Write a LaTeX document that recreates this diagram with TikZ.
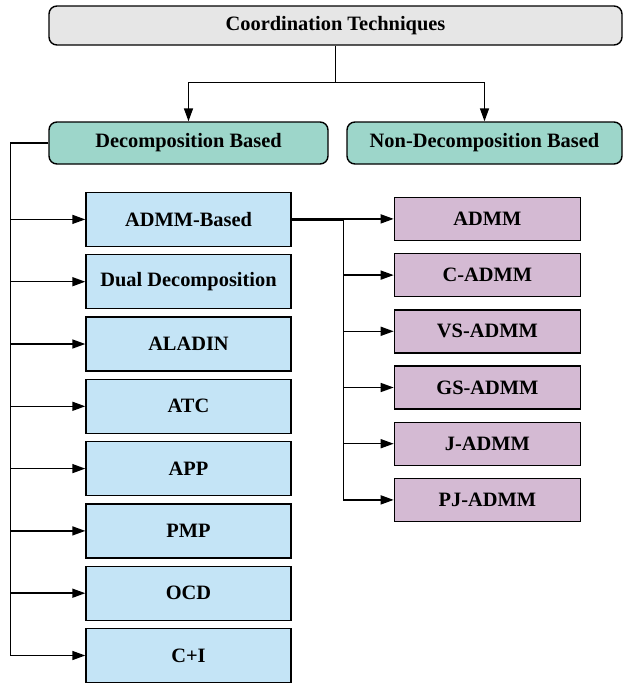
\documentclass[tikz,border=0pt]{standalone}
\usepackage{fontspec}
\setmainfont{Liberation Serif}
\usetikzlibrary{positioning, arrows.meta}
\definecolor{greyhead}{HTML}{E6E6E6}
\definecolor{tealbox}{HTML}{9DD6CA}
\definecolor{bluebox}{HTML}{C4E4F6}
\definecolor{mauvebox}{HTML}{D4BAD3}
\def\lbl{\bfseries\fontsize{20.4}{24}\selectfont}
\tikzstyle{head} = [rectangle, rounded corners=8pt, draw=black, line width=1.4pt, fill=greyhead, minimum width=573pt, minimum height=39pt, text centered, font=\lbl]
\tikzstyle{branch} = [rectangle, rounded corners=8pt, draw=black, line width=1.4pt, fill=tealbox, minimum height=42pt, text centered, font=\lbl]
\tikzstyle{method} = [rectangle, draw=black, line width=1.4pt, fill=bluebox, minimum width=205pt, minimum height=54pt, text centered, font=\lbl]
\tikzstyle{variant} = [rectangle, draw=black, line width=1.4pt, fill=mauvebox, minimum width=186pt, minimum height=43pt, text centered, font=\lbl]
\tikzstyle{aro} = [-{Triangle[length=13pt,width=9pt]}, line width=1.5pt]

\begin{document}
\begin{tikzpicture}[x=1pt, y=-1pt]

  \useasboundingbox (0,0) rectangle (623,686);

  \node (top) [head] at (335.5,25.5) {Coordination Techniques};
  \node (dec) [branch, minimum width=279pt] at (188.5,143) {Decomposition Based};
  \node (nondec) [branch, minimum width=275pt] at (484.5,143) {Non-Decomposition Based};

  \coordinate [below=37pt of top.south] (split);
  \draw [line width=1.8pt] (top.south) -- (split);
  \draw [aro] (split) -| (dec);
  \draw [aro] (split) -| (nondec);

  % decomposition based methods
  \node (admmb) [method, below right=27pt and 37pt of dec.south west] {ADMM-Based};
  \node (dual) [method, below=6.9pt of admmb] {Dual Decomposition};
  \node (aladin) [method, below=6.9pt of dual] {ALADIN};
  \node (atc) [method, below=6.9pt of aladin] {ATC};
  \node (app) [method, below=6.9pt of atc] {APP};
  \node (pmp) [method, below=6.9pt of app] {PMP};
  \node (ocd) [method, below=6.9pt of pmp] {OCD};
  \node (cpi) [method, below=6.9pt of ocd] {C+I};

  \coordinate [left=38pt of dec.west] (ltrunk);
  \draw [line width=1.5pt] (dec.west) -- (ltrunk);
  \draw [aro] (ltrunk) |- (admmb);
  \draw [aro] (ltrunk) |- (dual);
  \draw [aro] (ltrunk) |- (aladin);
  \draw [aro] (ltrunk) |- (atc);
  \draw [aro] (ltrunk) |- (app);
  \draw [aro] (ltrunk) |- (pmp);
  \draw [aro] (ltrunk) |- (ocd);
  \draw [aro] (ltrunk) |- (cpi);

  % ADMM variants
  \node (radmm) [variant, below right=5pt and 102pt of admmb.north east] {ADMM};
  \node (cadmm) [variant, below=11.8pt of radmm] {C-ADMM};
  \node (vsadmm) [variant, below=11.8pt of cadmm] {VS-ADMM};
  \node (gsadmm) [variant, below=11.8pt of vsadmm] {GS-ADMM};
  \node (jadmm) [variant, below=11.8pt of gsadmm] {J-ADMM};
  \node (pjadmm) [variant, below=11.8pt of jadmm] {PJ-ADMM};

  \coordinate [right=52pt of admmb.east] (rtrunk);
  \draw [line width=2.4pt] (admmb.east) -- (rtrunk);
  \draw [aro] (rtrunk) |- (radmm);
  \draw [aro] (rtrunk) |- (cadmm);
  \draw [aro] (rtrunk) |- (vsadmm);
  \draw [aro] (rtrunk) |- (gsadmm);
  \draw [aro] (rtrunk) |- (jadmm);
  \draw [aro] (rtrunk) |- (pjadmm);

\end{tikzpicture}
\end{document}
